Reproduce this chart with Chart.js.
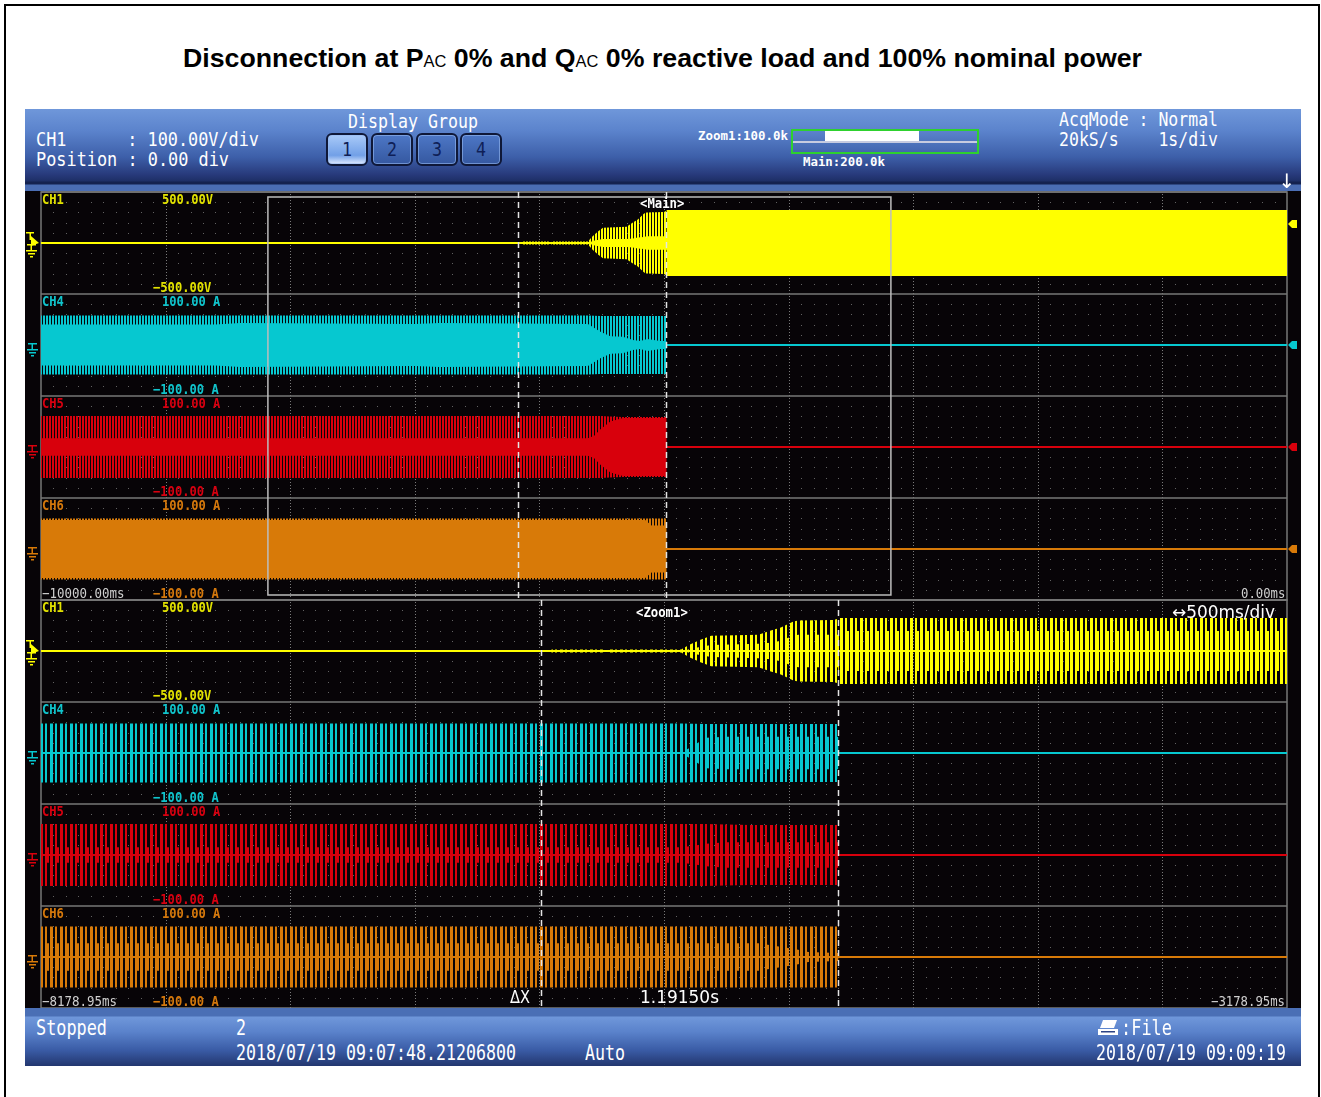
<!DOCTYPE html>
<html>
<head>
<meta charset="utf-8">
<title>Disconnection at PAC 0% and QAC 0% reactive load and 100% nominal power</title>
<script src="https://cdn.jsdelivr.net/npm/chart.js@4.4.1/dist/chart.umd.min.js"></script>
<style>
  html, body { margin: 0; padding: 0; background: #ffffff; }
  #page { position: relative; width: 1321px; height: 1097px; overflow: hidden; background: #ffffff; }
  #frame { position: absolute; left: 4px; top: 4px; width: 1312px; height: 1130px; border: 2px solid #000; }
  #title { position: absolute; top: 43px; left: 0; white-space: nowrap; font-family: "Liberation Sans", Arial, sans-serif; font-weight: bold; font-size: 26px; line-height: 30px; color: #000; transform-origin: 0 50%; }
  #title .sub { font-size: 16px; font-weight: normal; }
  .bar { position: absolute; left: 25px; width: 1276px; }
  #head { top: 109px; height: 82px; background: linear-gradient(to bottom, #6f97da 0px, #5b83cc 22px, #3d5fa9 48px, #27397a 66px, #1e2f66 72px, #14224f 73px, #14224f 75px, #4a6db3 76px, #4a6db3 82px); }
  #foot { top: 1008px; height: 58px; z-index: 4; background: linear-gradient(to bottom, #4a6fb5 0px, #4a6fb5 8px, #6f97da 9px, #5a82cb 24px, #3a5ca6 42px, #22366f 58px); }
  #screen { position: absolute; left: 25px; top: 191px; width: 1276px; height: 817px; background: #070407; }
  canvas.scope { position: absolute; left: 25px; z-index: 2; }
  #cvMain { top: 191px; }
  #cvZoom { top: 598px; }
  .lbl { position: absolute; white-space: pre; z-index: 6; transform-origin: 0 50%; }
  .btn { position: absolute; top: 133px; width: 38px; height: 29px; border: 2px solid #0f1838; border-radius: 6px; box-shadow: inset 0 0 0 1px rgba(150,185,240,0.6); background: linear-gradient(#4d77c6, #3558a0); z-index: 5; }
  .btn.on { background: linear-gradient(#a9caf8, #72a0e7 70%, #dfeaff); }
  #zoomMap { position: absolute; left: 791px; top: 129px; width: 184px; height: 21px; border: 2px solid #2ed12e; z-index: 5; }
  #zoomMap .axis { position: absolute; left: 0; right: 0; top: 10px; height: 2px; background: #c7cbe0; }
  #zoomMap .win { position: absolute; left: 32px; top: 0; width: 94px; height: 10px; background: #ffffff; }
  #printer { position: absolute; left: 1097px; top: 1019px; z-index: 6; }
</style>
</head>
<body>
<div id="page">
  <div id="frame"></div>
  <div id="title">Disconnection at P<span class="sub">AC</span> 0% and Q<span class="sub">AC</span> 0% reactive load and 100% nominal power</div>
  <div id="head" class="bar"></div>
  <div class="btn on" style="left:326px"></div>
  <div class="btn" style="left:371px"></div>
  <div class="btn" style="left:416px"></div>
  <div class="btn" style="left:460px"></div>
  <div id="zoomMap"><div class="axis"></div><div class="win"></div></div>
  <div id="screen"></div>
  <canvas id="cvMain" class="scope" width="1276" height="411"></canvas>
  <canvas id="cvZoom" class="scope" width="1276" height="412"></canvas>
  <div id="foot" class="bar"></div>
  <svg id="printer" width="22" height="18" viewBox="0 0 22 18">
    <polygon points="6,1 20,1 17,9 3,9" fill="#ffffff"/>
    <rect x="1" y="10" width="20" height="6" fill="#ffffff"/>
    <rect x="4" y="12" width="14" height="1.5" fill="#2c4385"/>
  </svg>
</div>
<script>
// ---------------- recorder settings ----------------
const channels = ['CH1', 'CH4', 'CH5', 'CH6'];
const channelColors = ['#ffff00', '#06c8d0', '#d8000c', '#d87a08'];
const labelColors = ['#e2e200', '#10c4cc', '#d80010', '#d4780c'];
const fullScale = [500, 100, 100, 100];          // +/- range of each row
const rangeUnits = ['V', ' A', ' A', ' A'];
const mainRange = [-10000, 0];                    // ms, 1 s/div
const zoomRange = [-8178.95, -3178.95];           // ms, 500 ms/div
const cursorTimes = [-6171.5, -4980];             // ms
const triggerLevel = 190;                         // V on CH1

// ---------------- waveform envelopes ----------------
// time (ms), peak amplitude, dense band seen at 1 s/div, dense band seen at 500 ms/div
// CH1: grid voltage (V)
const ch1T        = [-10000, -6135, -6130, -5925, -5920, -5905, -5900, -5610, -5600, -5575, -5535, -5490, -5300, -5250, -5210, -5160, -5140, -5000, -4980, -4979, 0];
const ch1Peak     = [0, 0, 15, 15, 0, 0, 15, 15, 30, 64, 108, 150, 160, 200, 230, 290, 300, 305, 315, 324, 324];
const ch1Core     = [0, 0, 0, 0, 0, 0, 0, 0, 0, 20, 30, 40, 40, 45, 55, 60, 65, 65, 65, 324, 324];
const ch1ZoomCore = [0, 0, 0, 0, 0, 0, 0, 0, 0, 20, 40, 60, 70, 80, 100, 150, 160, 160, 160, 196, 196];
// CH4: phase current (A)
const ch4T        = [-10000, -8600, -8400, -7000, -6800, -5610, -5510, -5430, -5330, -5250, -5190, -5135, -5030, -4980, -4979, 0];
const ch4Peak     = [58, 58, 58, 58, 58, 58, 57, 57, 57, 57, 57, 57, 57, 57, 0, 0];
const ch4Core     = [40, 40, 43, 41, 43, 41, 26, 17, 16, 10, 8, 12, 8, 8, 0, 0];
const ch4ZoomCore = [0, 0, 0, 0, 0, 0, 30, 32, 32, 32, 32, 32, 32, 32, 0, 0];
// CH5: phase current (A)
const ch5T        = [-10000, -5610, -5560, -5510, -5430, -5330, -4980, -4979, 0];
const ch5Peak     = [61, 61, 61, 61, 60, 59, 59, 0, 0];
const ch5Core     = [17, 17, 22, 35, 50, 57, 57, 0, 0];
const ch5ZoomCore = [15, 15, 18, 22, 25, 25, 25, 0, 0];
// CH6: phase current (A)
const ch6T        = [-10000, -7000, -6000, -5300, -5150, -5100, -4980, -4979, 0];
const ch6Peak     = [60, 60, 60, 60, 60, 60, 60, 0, 0];
const ch6Core     = [57, 57, 57, 57, 57, 46, 46, 0, 0];
const ch6ZoomCore = [27, 27, 27, 27, 15, 10, 8, 0, 0];

const traces = [
  { t: ch1T, peak: ch1Peak, core: ch1Core, zoomCore: ch1ZoomCore },
  { t: ch4T, peak: ch4Peak, core: ch4Core, zoomCore: ch4ZoomCore },
  { t: ch5T, peak: ch5Peak, core: ch5Core, zoomCore: ch5ZoomCore },
  { t: ch6T, peak: ch6Peak, core: ch6Core, zoomCore: ch6ZoomCore }
];

// ---------------- helpers ----------------
const MONO = '"DejaVu Sans Mono", "Liberation Mono", monospace';
const SANS = '"DejaVu Sans", "Liberation Sans", sans-serif';
const page = document.getElementById('page');

// vertical stripe fill: runs = [[start, width], ...] inside one period
function stripePattern(ctx, color, period, runs) {
  const c = document.createElement('canvas');
  c.width = period; c.height = 4;
  const g = c.getContext('2d');
  g.fillStyle = color;
  runs.forEach(r => g.fillRect(r[0], 0, r[1], 4));
  return ctx.createPattern(c, 'repeat');
}

function points(t, v, sign) {
  return t.map((x, i) => ({ x: x, y: sign * v[i] }));
}

function buildDatasets(ctx, zoomed) {
  const sets = [];
  traces.forEach((tr, i) => {
    const col = channelColors[i];
    const base = { yAxisID: 'y' + i, pointRadius: 0, borderWidth: 0, borderColor: 'rgba(0,0,0,0)', tension: 0 };
    const coreVals = zoomed ? tr.zoomCore : tr.core;
    const outerFill = zoomed ? stripePattern(ctx, col, 10, [[0, 2], [5, 3]]) : stripePattern(ctx, col, 3, [[0, 2]]);
    const coreFill = zoomed ? stripePattern(ctx, col, 10, [[0, 4], [5, 3]]) : col;
    sets.push(Object.assign({}, base, { label: channels[i] + ' peak', data: points(tr.t, tr.peak, 1), fill: '+1',
      backgroundColor: outerFill, order: 3 }));
    sets.push(Object.assign({}, base, { label: channels[i] + ' peak low', data: points(tr.t, tr.peak, -1), fill: false, order: 3 }));
    sets.push(Object.assign({}, base, { label: channels[i] + ' band', data: points(tr.t, coreVals, 1), fill: '+1',
      backgroundColor: coreFill, order: 2 }));
    sets.push(Object.assign({}, base, { label: channels[i] + ' band low', data: points(tr.t, coreVals, -1), fill: false, order: 2 }));
    sets.push(Object.assign({}, base, { label: channels[i] + ' zero', data: [{ x: tr.t[0], y: 0 }, { x: tr.t[tr.t.length - 1], y: 0 }],
      borderColor: col, borderWidth: 2, fill: false, order: 1 }));
  });
  return sets;
}

function scalesFor(range) {
  const s = { x: { type: 'linear', min: range[0], max: range[1], display: false } };
  channels.forEach((c, i) => {
    s['y' + i] = { type: 'linear', position: 'left', stack: 'rows', stackWeight: 1, weight: channels.length - i,
      min: -fullScale[i], max: fullScale[i], display: false };
  });
  return s;
}

// graticule: dotted divisions, dotted major verticals, row separators
const scopeGrid = {
  id: 'scopeGrid',
  beforeDatasetsDraw(chart) {
    const { ctx, chartArea: a } = chart;
    const divW = (a.right - a.left) / 10;
    ctx.save();
    ctx.fillStyle = '#626262';
    channels.forEach((c, i) => {
      const s = chart.scales['y' + i];
      const dy = (s.bottom - s.top) / 10;
      for (let j = 1; j < 10; j++) {
        const y = Math.round(s.top + j * dy);
        for (let k = 1; k < 100; k++) {
          if (k % 10 === 0) continue;
          ctx.fillRect(Math.round(a.left + k * divW / 10), y, 1, 1);
        }
      }
    });
    ctx.fillStyle = '#7a7a7a';
    for (let i = 1; i < 10; i++) {
      const x = Math.round(a.left + i * divW);
      for (let y = a.top + 2; y < a.bottom; y += 3) ctx.fillRect(x, Math.round(y), 1, 1);
    }
    ctx.strokeStyle = '#777777';
    ctx.lineWidth = 1.5;
    channels.forEach((c, i) => {
      const s = chart.scales['y' + i];
      ctx.beginPath(); ctx.moveTo(a.left, s.top); ctx.lineTo(a.right, s.top); ctx.stroke();
    });
    ctx.strokeRect(a.left, a.top, a.right - a.left, a.bottom - a.top);
    ctx.restore();
  }
};

function groundMark(ctx, cx, y, color) {
  ctx.fillStyle = color;
  ctx.fillRect(cx - 4, y - 3, 9, 1.5);
  ctx.fillRect(cx - 0.5, y - 3, 1.5, 6);
  ctx.fillRect(cx - 5, y + 3, 11, 1.5);
  ctx.fillRect(cx - 3, y + 6, 7, 1.5);
  ctx.fillRect(cx - 1, y + 9, 3, 1.5);
}

// zoom window, cursors, channel and trigger markers
const scopeMarks = {
  id: 'scopeMarks',
  afterDatasetsDraw(chart, args, opts) {
    const { ctx, chartArea: a, scales } = chart;
    const xs = scales.x;
    ctx.save();
    if (!opts.zoomed) {
      const x1 = xs.getPixelForValue(zoomRange[0]);
      const x2 = xs.getPixelForValue(zoomRange[1]);
      ctx.strokeStyle = '#bdbdbd';
      ctx.lineWidth = 1.5;
      ctx.strokeRect(x1, a.top + 5, x2 - x1, a.bottom - a.top - 10);
    }
    ctx.strokeStyle = '#e4e4e4';
    ctx.lineWidth = 1.5;
    ctx.setLineDash([6, 4]);
    cursorTimes.forEach(t => {
      const x = Math.round(xs.getPixelForValue(t)) + 0.5;
      ctx.beginPath(); ctx.moveTo(x, a.top); ctx.lineTo(x, a.bottom); ctx.stroke();
    });
    ctx.setLineDash([]);
    const cx = a.left - 9;
    channels.forEach((c, i) => {
      const s = scales['y' + i];
      const y = Math.round(s.getPixelForValue(0));
      const col = channelColors[i];
      if (i === 0) {
        ctx.fillStyle = col;
        ctx.fillRect(cx - 6, y - 11, 8, 1.5);
        ctx.fillRect(cx - 2.5, y - 11, 1.5, 8);
        ctx.beginPath(); ctx.moveTo(cx - 1, y - 7); ctx.lineTo(cx + 7, y); ctx.lineTo(cx - 1, y + 3); ctx.closePath(); ctx.fill();
        groundMark(ctx, cx - 1, y + 4, col);
      } else {
        groundMark(ctx, cx, y + 1, col);
      }
      if (!opts.zoomed) {
        const ym = Math.round(s.getPixelForValue(i === 0 ? triggerLevel : 0));
        const xr = a.right + 1;
        ctx.fillStyle = col;
        ctx.beginPath();
        ctx.moveTo(xr, ym); ctx.lineTo(xr + 4, ym - 4); ctx.lineTo(xr + 9, ym - 4);
        ctx.lineTo(xr + 9, ym + 4); ctx.lineTo(xr + 4, ym + 4); ctx.closePath(); ctx.fill();
      }
    });
    ctx.restore();
  }
};

function makeChart(id, range, zoomed, pad) {
  const ctx = document.getElementById(id).getContext('2d');
  return new Chart(ctx, {
    type: 'line',
    data: { datasets: buildDatasets(ctx, zoomed) },
    options: {
      responsive: false,
      animation: false,
      devicePixelRatio: 1,
      events: [],
      parsing: false,
      layout: { padding: pad },
      scales: scalesFor(range),
      plugins: { legend: { display: false }, tooltip: { enabled: false }, scopeMarks: { zoomed: zoomed } }
    },
    plugins: [scopeGrid, scopeMarks]
  });
}

const mainChart = makeChart('cvMain', mainRange, false, { left: 16, right: 14, top: 1, bottom: 2 });
const zoomChart = makeChart('cvZoom', zoomRange, true, { left: 16, right: 14, top: 2, bottom: 2 });

// ---------------- text ----------------
function label(text, o) {
  const el = document.createElement('div');
  el.className = 'lbl';
  el.textContent = text;
  const size = o.size || 13;
  el.style.fontFamily = o.family || MONO;
  el.style.fontSize = size + 'px';
  el.style.fontWeight = o.bold ? 'bold' : 'normal';
  el.style.lineHeight = size + 'px';
  el.style.color = o.color || '#ffffff';
  el.style.left = '0px';
  el.style.top = '0px';
  page.appendChild(el);
  const natural = el.getBoundingClientRect().width;
  const sx = o.width ? o.width / natural : 1;
  const w = natural * sx;
  let left = o.x;
  if (o.align === 'right') left -= w;
  else if (o.align === 'center') left -= w / 2;
  el.style.left = left + 'px';
  el.style.top = (o.cy - size * 0.5) + 'px';
  el.style.transform = 'scaleX(' + sx + ')';
  return el;
}

const minus = s => s.replace('-', '\u2212');
const fmtMs = v => minus(v.toFixed(2)) + 'ms';
const ADV = 7.3;

function panelText(chart, id, range, zoomed) {
  const cv = document.getElementById(id);
  const ox = cv.offsetLeft, oy = cv.offsetTop;
  const a = chart.chartArea;
  channels.forEach((name, i) => {
    const s = chart.scales['y' + i];
    const top = oy + s.top, bot = oy + s.bottom;
    const col = labelColors[i];
    label(name, { x: ox + a.left + 1, cy: top + 7, size: 14, bold: true, width: name.length * ADV, color: col });
    const hi = s.max.toFixed(2) + rangeUnits[i];
    const lo = minus(s.min.toFixed(2)) + rangeUnits[i];
    label(hi, { x: ox + a.left + 121, cy: top + 7, size: 14, bold: true, width: hi.length * ADV, color: col });
    label(lo, { x: ox + a.left + 112, cy: bot - 7, size: 14, bold: true, width: lo.length * ADV, color: col });
  });
  const bottom = oy + a.bottom;
  const t0 = fmtMs(range[0]), t1 = fmtMs(range[1]);
  label(t0, { x: ox + a.left + 1, cy: bottom - 7, size: 14, width: t0.length * 7.5, color: '#cfcfcf' });
  label(t1, { x: ox + a.right - 2, cy: bottom - 7, size: 14, width: t1.length * 7.4, color: '#cfcfcf', align: 'right' });
  const mid = ox + (a.left + a.right) / 2 - 2;
  const tag = zoomed ? '<Zoom1>' : '<Main>';
  label(tag, { x: mid, cy: oy + a.top + (zoomed ? 12 : 11), size: 14, bold: true, width: tag.length * 7.4, align: 'center' });
  if (zoomed) {
    const perDiv = (range[1] - range[0]) / 10;
    label('\u2194' + perDiv.toFixed(0) + 'ms/div', { x: ox + a.right - 12, cy: oy + a.top + 12, family: SANS, size: 17, width: 103, align: 'right' });
    const dx = (cursorTimes[1] - cursorTimes[0]) / 1000;
    label('\u0394X', { x: 510, cy: bottom - 11, family: SANS, size: 17, width: 20 });
    label(dx.toFixed(5) + 's', { x: 640, cy: bottom - 11, family: SANS, size: 17, width: 79 });
  }
}

panelText(mainChart, 'cvMain', mainRange, false);
panelText(zoomChart, 'cvZoom', zoomRange, true);

// header
label('CH1      : 100.00V/div', { x: 36, cy: 139, size: 20, width: 223 });
label('Position : 0.00 div', { x: 36, cy: 159, size: 20, width: 193 });
label('Display Group', { x: 348, cy: 121, size: 20, width: 130 });
['1', '2', '3', '4'].forEach((n, i) => {
  label(n, { x: [347, 392, 437, 481][i], cy: 149, size: 20, width: 10, align: 'center', color: '#0f1f57' });
});
label('Zoom1:100.0k', { x: 698, cy: 136, size: 12, bold: true, width: 90 });
label('Main:200.0k', { x: 803, cy: 162, size: 12, bold: true, width: 82 });
label('AcqMode : Normal', { x: 1059, cy: 119, size: 20, width: 159 });
label('20kS/s    1s/div', { x: 1059, cy: 139, size: 20, width: 159 });
label('\u2193', { x: 1287, cy: 181, size: 20, family: SANS, align: 'center' });

// footer
label('Stopped', { x: 36, cy: 1028, size: 22, width: 71 });
label('2', { x: 236, cy: 1028, size: 22, width: 10 });
label('2018/07/19 09:07:48.21206800', { x: 236, cy: 1053, size: 22, width: 280 });
label('Auto', { x: 585, cy: 1053, size: 22, width: 40 });
label(':File', { x: 1121, cy: 1028, size: 22, width: 51 });
label('2018/07/19 09:09:19', { x: 1096, cy: 1053, size: 22, width: 190 });

// title fitted to its line
const title = document.getElementById('title');
const tw = title.getBoundingClientRect().width;
title.style.left = '183px';
title.style.transform = 'scaleX(' + (959 / tw) + ')';
</script>
</body>
</html>
